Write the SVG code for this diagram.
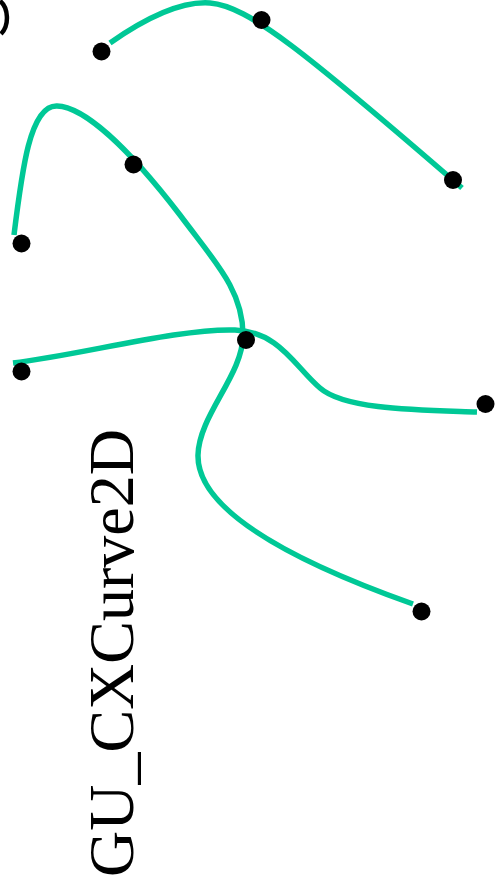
<svg xmlns="http://www.w3.org/2000/svg" width="502" height="891" viewBox="0 0 502 891">
<style>
.crv{fill:none;stroke:#00c896;stroke-width:5.5;stroke-linecap:butt}
.pt{fill:#000}
.lbl{font-family:"Liberation Serif","Times New Roman",serif;font-size:64px;fill:#000}
</style>
<rect width="502" height="891" fill="#fff"/>
<path d="M0,1 C8,7 10,25 1,34" fill="none" stroke="#000" stroke-width="4.5"/>
<g id="connectors">
<path class="crv" d="M110,43 C150,15 183,1 210,3 C248,6 305,52 462,188"/>
<path class="crv" d="M14,235 C22,170 30,105 57,106 C85,107 130,150 180,215 C215,262 243,290 243,335 C243,375 199,415 198,455 C197,505 275,555 413,604"/>
<path class="crv" d="M13,363 C80,355 180,328 235,330 C280,332 295,367 320,388 C345,410 420,410 477,412"/>
</g>
<g id="points">
<circle class="pt" cx="101.5" cy="51.5" r="9"/>
<circle class="pt" cx="261.5" cy="20" r="9"/>
<circle class="pt" cx="453" cy="180" r="9"/>
<circle class="pt" cx="133.5" cy="164.5" r="9"/>
<circle class="pt" cx="21.5" cy="243.5" r="9"/>
<circle class="pt" cx="246" cy="340" r="9"/>
<circle class="pt" cx="21.5" cy="371.5" r="9"/>
<circle class="pt" cx="485.5" cy="404" r="9"/>
<circle class="pt" cx="421.5" cy="611.5" r="9"/>
</g>
<g id="label">
<text class="lbl" transform="translate(133,877) rotate(-90)">GU_CXCurve2D</text>
</g>
</svg>
